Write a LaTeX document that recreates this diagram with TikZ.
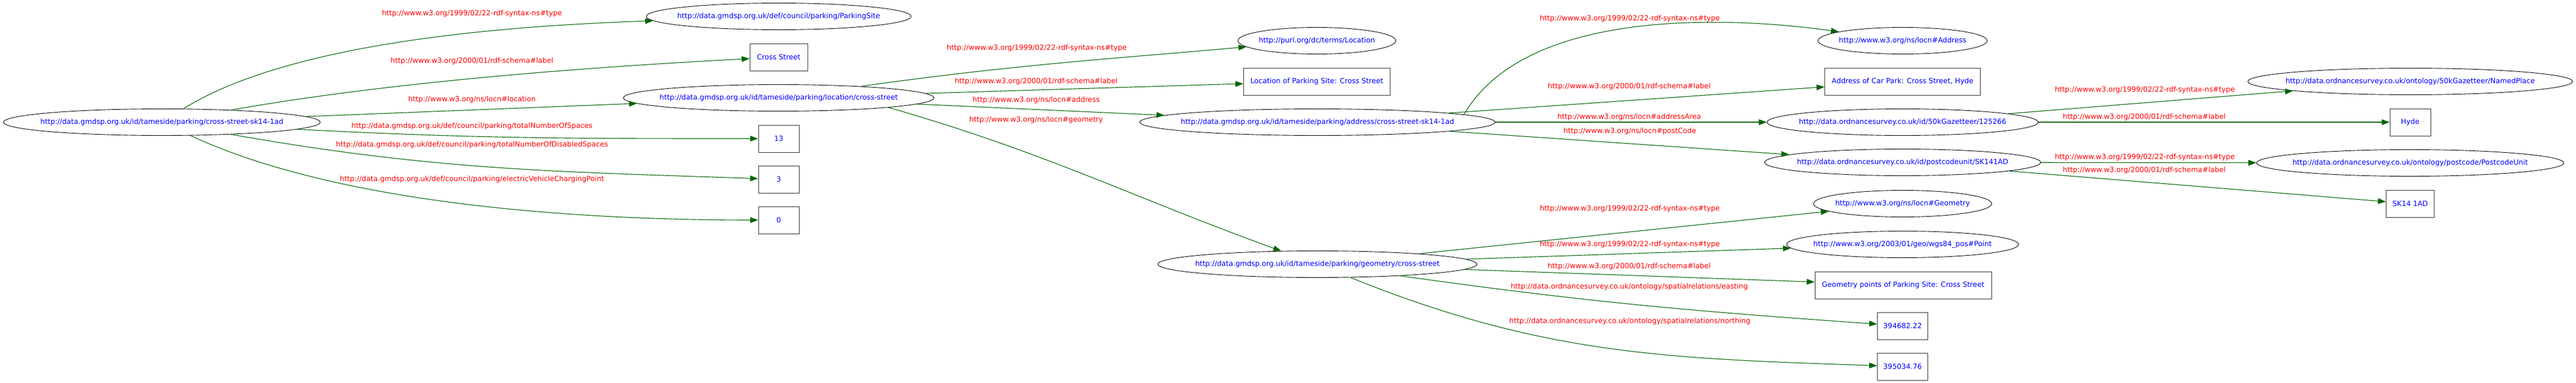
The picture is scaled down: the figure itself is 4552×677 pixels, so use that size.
\documentclass[tikz,border=0pt]{standalone}
\usepackage{fontspec}
\setmainfont{DejaVu Sans}
\usetikzlibrary{arrows.meta,shapes.geometric}
\definecolor{darkgreen}{RGB}{0,100,0}

\begin{document}
\begin{tikzpicture}[x=1pt,y=-1pt]

\tikzset{every node/.style = {font=\fontsize{12.6}{15}\selectfont}}
\tikzset{res/.style = {shape=ellipse,draw,line width=0.9pt,text=blue,inner xsep=-30pt,inner ysep=0pt,minimum height=47pt}}
\tikzset{lit/.style = {shape=rectangle,draw=black!80,line width=0.9pt,text=blue,inner sep=0pt,minimum height=48pt}}
\tikzset{prop/.style = {text=red,inner sep=0pt}}
\tikzset{edge/.style = {->,> = {Triangle[length=14pt,width=10pt]},darkgreen,line width=1.1pt}}

\useasboundingbox (0,0) rectangle (4552,677);

\node[res,minimum width=560pt] (site) at (286,216) {http://data.gmdsp.org.uk/id/tameside/parking/cross-street-sk14-1ad};
\node[res,minimum width=468pt] (sitetype) at (1376,29) {http://data.gmdsp.org.uk/def/council/parking/ParkingSite};
\node[res,minimum width=549pt] (loc) at (1376,173) {http://data.gmdsp.org.uk/id/tameside/parking/location/cross-street};
\node[res,minimum width=279pt] (loctype) at (2327,72) {http://purl.org/dc/terms/Location};
\node[res,minimum width=628pt] (addr) at (2328,216) {http://data.gmdsp.org.uk/id/tameside/parking/address/cross-street-sk14-1ad};
\node[res,minimum width=564pt] (geom) at (2328,467) {http://data.gmdsp.org.uk/id/tameside/parking/geometry/cross-street};
\node[res,minimum width=299pt] (addrtype) at (3362,72) {http://www.w3.org/ns/locn\#Address};
\node[res,minimum width=479pt] (area) at (3362,216) {http://data.ordnancesurvey.co.uk/id/50kGazetteer/125266};
\node[res,minimum width=488pt] (pcode) at (3362,287) {http://data.ordnancesurvey.co.uk/id/postcodeunit/SK141AD};
\node[res,minimum width=315pt] (geomtype) at (3362,360) {http://www.w3.org/ns/locn\#Geometry};
\node[res,minimum width=410pt] (pointtype) at (3362,432) {http://www.w3.org/2003/01/geo/wgs84\_pos\#Point};
\node[res,minimum width=574pt] (areatype) at (4259,144) {http://data.ordnancesurvey.co.uk/ontology/50kGazetteer/NamedPlace};
\node[res,minimum width=543pt] (pctype) at (4259,288) {http://data.ordnancesurvey.co.uk/ontology/postcode/PostcodeUnit};

\foreach \pos/\name/\w/\txt in {{(1376,101)}/crossst/102pt/{Cross Street}, {(1376,245)}/spaces/72pt/13,
  {(1376,317)}/disabled/72pt/3, {(1376,389)}/charging/72pt/0,
  {(2327,144)}/loclabel/259pt/{Location of Parking Site: Cross Street},
  {(3362,144)}/addrlabel/275pt/{Address of Car Park: Cross Street, Hyde},
  {(4259,216)}/arealabel/72pt/Hyde, {(4259,360)}/pclabel/85pt/{SK14 1AD},
  {(3363,504)}/geomlabel/312pt/{Geometry points of Parking Site: Cross Street},
  {(3362,576)}/easting/89pt/394682.22, {(3362,648)}/northing/89pt/395034.76}
\node[lit,minimum width=\w] (\name) at \pos {\txt};

\node[prop] (l1) at (834,24) {http://www.w3.org/1999/02/22-rdf-syntax-ns\#type};
\node[prop] (l2) at (834,108) {http://www.w3.org/2000/01/rdf-schema\#label};
\node[prop] (l3) at (834,176) {http://www.w3.org/ns/locn\#location};
\node[prop] (l4) at (834,223) {http://data.gmdsp.org.uk/def/council/parking/totalNumberOfSpaces};
\node[prop] (l5) at (834,256) {http://data.gmdsp.org.uk/def/council/parking/totalNumberOfDisabledSpaces};
\node[prop] (l6) at (834,317) {http://data.gmdsp.org.uk/def/council/parking/electricVehicleChargingPoint};
\node[prop] (l7) at (1832,85) {http://www.w3.org/1999/02/22-rdf-syntax-ns\#type};
\node[prop] (l8) at (1831,144) {http://www.w3.org/2000/01/rdf-schema\#label};
\node[prop] (l9) at (1831,177) {http://www.w3.org/ns/locn\#address};
\node[prop] (l10) at (1831,212) {http://www.w3.org/ns/locn\#geometry};
\node[prop] (l11) at (2880,33) {http://www.w3.org/1999/02/22-rdf-syntax-ns\#type};
\node[prop] (l12) at (2879,153) {http://www.w3.org/2000/01/rdf-schema\#label};
\node[prop] (l13) at (2879,207) {http://www.w3.org/ns/locn\#addressArea};
\node[prop] (l14) at (2880,232) {http://www.w3.org/ns/locn\#postCode};
\node[prop] (l15) at (2880,369) {http://www.w3.org/1999/02/22-rdf-syntax-ns\#type};
\node[prop] (l16) at (2880,432) {http://www.w3.org/1999/02/22-rdf-syntax-ns\#type};
\node[prop] (l17) at (2879,471) {http://www.w3.org/2000/01/rdf-schema\#label};
\node[prop] (l18) at (2879,507) {http://data.ordnancesurvey.co.uk/ontology/spatialrelations/easting};
\node[prop] (l19) at (2880,568) {http://data.ordnancesurvey.co.uk/ontology/spatialrelations/northing};
\node[prop] (l20) at (3790,159) {http://www.w3.org/1999/02/22-rdf-syntax-ns\#type};
\node[prop] (l21) at (3789,207) {http://www.w3.org/2000/01/rdf-schema\#label};
\node[prop] (l22) at (3790,278) {http://www.w3.org/1999/02/22-rdf-syntax-ns\#type};
\node[prop] (l23) at (3789,301) {http://www.w3.org/2000/01/rdf-schema\#label};

\foreach \from/\to in {site/loc, loc/loclabel, loc/addr, addr/addrlabel, addr/area, addr/pcode,
  area/areatype, area/arealabel, pcode/pctype, pcode/pclabel, geom/geomtype, geom/pointtype, geom/geomlabel}
\draw [edge] (\from) to (\to);

\draw[edge] (site) to [out=32, in=182, looseness=0.7] (sitetype);
\draw[edge] (site) to [out=10, in=183, looseness=0.8] (crossst);
\draw[edge] (site) to [out=-3, in=180] (spaces);
\draw[edge] (site) to [out=-10, in=178] (disabled);
\draw[edge] (site) to [out=-25, in=180, looseness=0.75] (charging);
\draw[edge] (loc) to [out=8, in=185] (loctype);
\draw[edge] (loc.-5) to [out=-16, in=160] (geom);
\draw[edge] (addr.3) to [out=60, in=172, looseness=0.8] (addrtype);
\draw[edge] (geom) to [out=-8, in=176] (easting);
\draw[edge] (geom) to [out=-22, in=178] (northing);
\end{tikzpicture}
\end{document}
